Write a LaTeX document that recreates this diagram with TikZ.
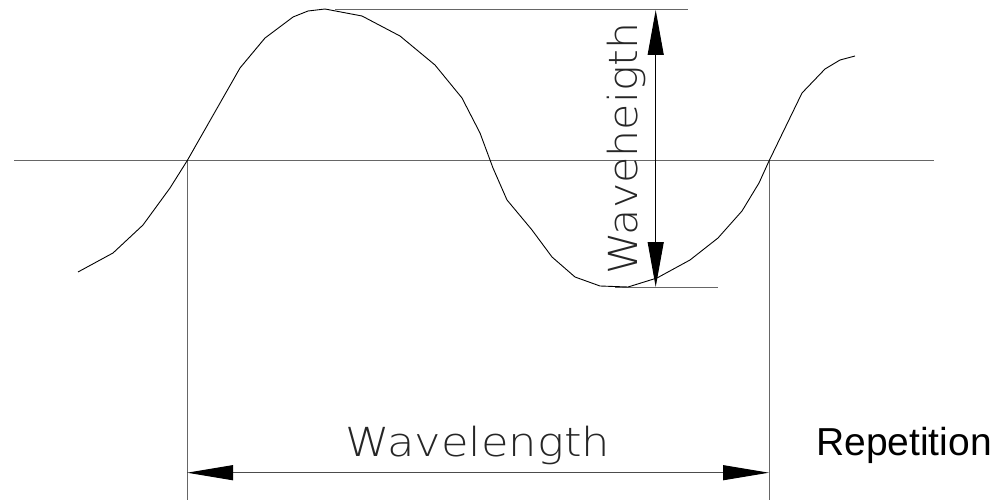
\documentclass[tikz,border=0pt]{standalone}
\usepackage{fontspec}
\setmainfont{Liberation Sans}
\newfontfamily\cadfont{DejaVu Sans}[UprightFont={* ExtraLight}]
\usetikzlibrary{arrows.meta}
\tikzset{
  refline/.style={draw=black!60, line width=1pt},
  wave/.style={draw=black, line width=0.9pt, line join=round},
  htip/.tip={Triangle[length=46pt,width=15pt,color=black]},
  vtip/.tip={Triangle[length=45pt,width=16pt,color=black]},
  cadtext/.style={font=\cadfont\fontsize{40}{40}\selectfont, text=black!85, inner sep=0pt},
  labeltext/.style={font=\fontsize{39}{39}\selectfont, text=black, inner sep=0pt}
}
\begin{document}
\begin{tikzpicture}[x=1pt,y=-1pt]
\useasboundingbox (0,0) rectangle (999,500);
% coordinates
\coordinate (axL) at (14,161);
\coordinate (axR) at (934,161);
\coordinate (topL) at (335,10);
\coordinate (topR) at (688,10);
\coordinate (botL) at (615,287);
\coordinate (botR) at (718,287);
\coordinate (v1t) at (187,161);
\coordinate (v1b) at (187,500);
\coordinate (v2t) at (769,161);
\coordinate (v2b) at (769,500);
\coordinate (hT) at (655.7,10);
\coordinate (hB) at (655.7,287);
\coordinate (lL) at (187,472.7);
\coordinate (lR) at (769,472.7);
% reference lines
\draw[refline] (axL) -- (axR);
\draw[refline] (topL) -- (topR);
\draw[refline] (botL) -- (botR);
\draw[refline] (v1t) -- (v1b);
\draw[refline] (v2t) -- (v2b);
% wave
\draw[wave] (78,272) -- (113,253) -- (143,225) -- (170,188) -- (187,161)
  -- (240,68) -- (265,38) -- (293,17) -- (308,11) -- (325,9) -- (362,16)
  -- (400,36) -- (435,65) -- (462,98) -- (480,133) -- (493,168)
  -- (507,200) -- (532,230) -- (552,257) -- (575,277) -- (600,286) -- (628,287)
  -- (657,278) -- (690,260) -- (718,238) -- (742,211) -- (759,183) -- (769,161)
  -- (802,93) -- (825,69) -- (840,60) -- (855,56);
% dimensions
\draw[draw=black, line width=1pt, vtip-vtip] (hT) -- (hB);
\draw[draw=black!70, line width=1pt, htip-htip] (lL) -- (lR);
% texts
\node[cadtext, anchor=base] (wl) at (478,456) {\scalebox{1.12}[1]{Wavelength}};
\node[cadtext, anchor=base, rotate=90] (wh) at (637,148.5) {\scalebox{1.07}[1]{Waveheigth}};
\node[labeltext, anchor=base west] (rep) at (816,455) {Repetition};
\end{tikzpicture}
\end{document}
